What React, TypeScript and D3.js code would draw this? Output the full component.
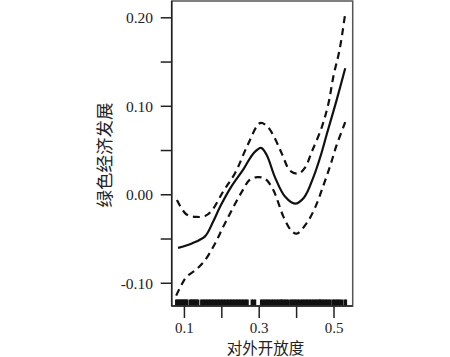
import React from "react";
import * as d3 from "d3";

const fitX = [0.083, 0.12, 0.155, 0.175, 0.196, 0.225, 0.258, 0.285, 0.305, 0.32, 0.342, 0.369, 0.396, 0.42, 0.445, 0.465, 0.481, 0.507, 0.53];
const fitY = [-0.06, -0.055, -0.047, -0.032, -0.013, 0.009, 0.029, 0.047, 0.053, 0.045, 0.02, -0.002, -0.01, -0.003, 0.02, 0.045, 0.069, 0.107, 0.143];

const upperX = [0.08, 0.105, 0.133, 0.155, 0.173, 0.204, 0.236, 0.27, 0.302, 0.32, 0.338, 0.36, 0.383, 0.405, 0.423, 0.441, 0.467, 0.485, 0.499, 0.515, 0.53];
const upperY = [-0.006, -0.022, -0.025, -0.024, -0.018, 0.004, 0.025, 0.057, 0.081, 0.078, 0.067, 0.047, 0.027, 0.024, 0.031, 0.049, 0.076, 0.103, 0.135, 0.164, 0.205];

const lowerX = [0.078, 0.092, 0.105, 0.13, 0.155, 0.182, 0.204, 0.227, 0.253, 0.275, 0.295, 0.316, 0.338, 0.365, 0.385, 0.4, 0.427, 0.45, 0.472, 0.49, 0.507, 0.53];
const lowerY = [-0.114, -0.102, -0.093, -0.085, -0.074, -0.055, -0.036, -0.017, 0.003, 0.017, 0.02, 0.018, 0.005, -0.025, -0.04, -0.044, -0.032, -0.014, 0.011, 0.033, 0.056, 0.082];

const rugValues = [
  0.078, 0.081, 0.084, 0.087, 0.09, 0.093, 0.096, 0.099, 0.102, 0.105, 0.108,
  0.115, 0.118, 0.121, 0.124, 0.127, 0.13, 0.133, 0.137,
  0.145, 0.149, 0.153, 0.157, 0.161, 0.165, 0.169, 0.173, 0.177, 0.181, 0.185, 0.189, 0.193, 0.197, 0.201, 0.205, 0.209, 0.213, 0.217, 0.221, 0.225, 0.229, 0.233, 0.237, 0.241, 0.245, 0.249, 0.253, 0.257, 0.261, 0.265, 0.269,
  0.28, 0.284, 0.289,
  0.305, 0.309, 0.313, 0.317, 0.321, 0.325, 0.329,
  0.334, 0.338, 0.342, 0.347,
  0.351, 0.355, 0.359, 0.361,
  0.365, 0.369, 0.373, 0.377,
  0.383, 0.387, 0.391, 0.395, 0.399, 0.403, 0.407,
  0.412, 0.416, 0.42, 0.424, 0.428, 0.432,
  0.436, 0.44, 0.444, 0.448, 0.452, 0.456, 0.46, 0.463,
  0.466, 0.47, 0.474, 0.478, 0.482, 0.486, 0.49,
  0.496, 0.5, 0.504, 0.508, 0.512, 0.516, 0.521,
  0.528, 0.532,
];

const xTicks = [0.1, 0.2, 0.3, 0.4, 0.5];
const xTickLabels = ["0.1", "", "0.3", "", "0.5"];
const yTicks = [0.2, 0.15, 0.1, 0.05, 0.0, -0.05, -0.1];
const yTickLabels = ["0.20", "", "0.10", "", "0.00", "", "-0.10"];

const xTitle = "对外开放度";
const yTitle = "绿色经济发展";

export default function App() {
  const left = 171.7, right = 352.7, top = 1, bottom = 306;
  const x = d3.scaleLinear().domain([0.066, 0.55]).range([left, right]);
  const y = d3.scaleLinear().domain([-0.1257, 0.219]).range([bottom, top]);

  const mk = (xs: number[], ys: number[]) =>
    d3.line<number>().x((_, i) => x(xs[i])).y((_, i) => y(ys[i])).curve(d3.curveCatmullRom.alpha(0.5))(xs as any) || "";

  const serif = "'Liberation Serif', 'DejaVu Serif', serif";
  const cjk = "'Noto Sans CJK SC', sans-serif";

  return (
    <svg width={450} height={357} style={{ position: "absolute", left: 0, top: 0, background: "#fff" }}>
      <rect x={0} y={0} width={450} height={357} fill="#fff" />
      <path d={mk(upperX, upperY)} fill="none" stroke="#111" strokeWidth={2.2} strokeDasharray="7,5" />
      <path d={mk(lowerX, lowerY)} fill="none" stroke="#111" strokeWidth={2.2} strokeDasharray="7,5" />
      <path d={mk(fitX, fitY)} fill="none" stroke="#111" strokeWidth={2.2} />
      {rugValues.map((v, i) => (
        <line key={"r" + i} x1={x(v)} x2={x(v)} y1={bottom - 6.5} y2={bottom} stroke="#111" strokeWidth={2.3} />
      ))}
      <rect x={left} y={top} width={right - left} height={bottom - top} fill="none" stroke="#555" strokeWidth={1.5} />
      <line x1={left} x2={left} y1={top} y2={bottom} stroke="#222" strokeWidth={1.5} />
      <line x1={left} x2={right} y1={bottom} y2={bottom} stroke="#222" strokeWidth={1.5} />
      {yTicks.map((t, i) => (
        <g key={"y" + i}>
          <line x1={left - 11} x2={left} y1={y(t)} y2={y(t)} stroke="#222" strokeWidth={1.5} />
          {yTickLabels[i] && (
            <text x={153} y={y(t)} dy="0.35em" textAnchor="end" fontFamily={serif} fontSize={15.5} fill="#222">
              {yTickLabels[i]}
            </text>
          )}
        </g>
      ))}
      {xTicks.map((t, i) => (
        <g key={"x" + i}>
          <line x1={x(t)} x2={x(t)} y1={bottom} y2={bottom + 12} stroke="#222" strokeWidth={1.5} />
          {xTickLabels[i] && (
            <text x={x(t)} y={333} textAnchor="middle" fontFamily={serif} fontSize={15} fill="#222">
              {xTickLabels[i]}
            </text>
          )}
        </g>
      ))}
      <text x={265.5} y={354} textAnchor="middle" fontFamily={cjk} fontSize={15.5} fill="#222">
        {xTitle}
      </text>
      <text
        transform={`translate(110.5,155) rotate(-90)`}
        textAnchor="middle"
        fontFamily={cjk}
        fontSize={17.5}
        fill="#222"
      >
        {yTitle}
      </text>
    </svg>
  );
}
